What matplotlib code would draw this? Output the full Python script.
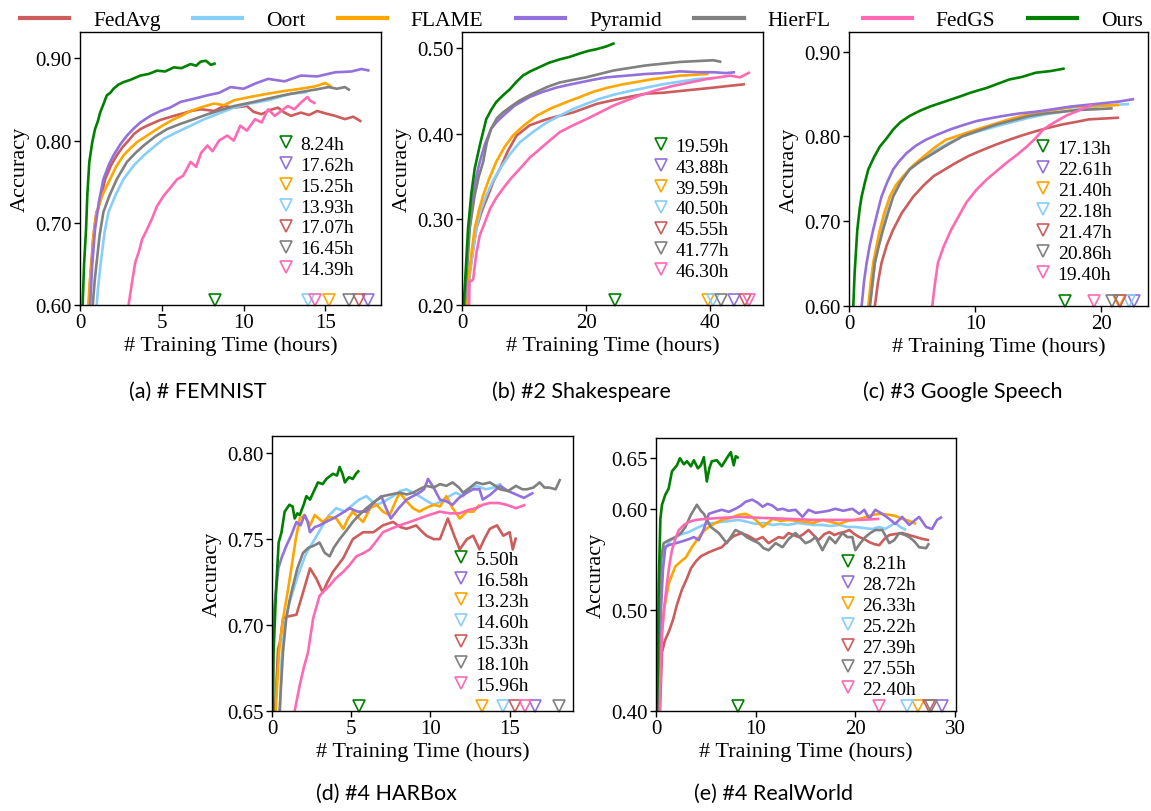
import matplotlib
matplotlib.use("Agg")
import matplotlib.pyplot as plt
from matplotlib.lines import Line2D

plt.rcParams['font.family'] = ['Liberation Serif', 'DejaVu Serif']

METHODS = ["FedAvg", "Oort", "FLAME", "Pyramid", "HierFL", "FedGS", "Ours"]
COLORS = {"FedAvg": "#cd5c5c", "Oort": "#87cefa", "FLAME": "#ffa500",
          "Pyramid": "#9370db", "HierFL": "#808080", "FedGS": "#ff69b4",
          "Ours": "#008000"}
TIME_ORDER = ["Ours", "Pyramid", "FLAME", "Oort", "FedAvg", "HierFL", "FedGS"]

# ---------------- (a) FEMNIST ----------------
femnist = {
    "FedAvg": ([0.5, 0.55, 0.65, 0.8, 1.0, 1.1, 1.54, 1.9, 2.25, 2.6, 2.97, 3.3, 3.7, 4.1, 4.9, 5.74, 6.3, 6.8, 7.4, 8.2, 8.8, 9.4, 10.2, 10.6, 11.1, 11.6, 12.1, 12.5, 12.9, 13.5, 14.0, 14.5, 15.0, 15.6, 16.2, 16.7, 17.2],
               [0.58, 0.60, 0.64, 0.68, 0.713, 0.716, 0.753, 0.770, 0.782, 0.792, 0.80, 0.808, 0.814, 0.818, 0.825, 0.830, 0.833, 0.836, 0.838, 0.836, 0.842, 0.840, 0.842, 0.835, 0.832, 0.837, 0.840, 0.834, 0.830, 0.834, 0.831, 0.836, 0.833, 0.830, 0.826, 0.829, 0.823]),
    "Oort": ([1.0, 1.02, 1.1, 1.27, 1.5, 1.74, 2.2, 2.66, 3.3, 3.9, 4.5, 5.12, 5.9, 6.76, 7.6, 8.5, 9.4, 10.4, 11.5, 12.2, 12.9, 13.5, 13.9],
             [0.58, 0.60, 0.62, 0.652, 0.688, 0.713, 0.735, 0.753, 0.770, 0.782, 0.792, 0.802, 0.810, 0.818, 0.826, 0.833, 0.840, 0.845, 0.849, 0.853, 0.857, 0.858, 0.859]),
    "FLAME": ([0.48, 0.51, 0.6, 0.72, 0.85, 1.02, 1.4, 1.84, 2.2, 2.66, 3.05, 3.48, 4.1, 4.71, 5.2, 5.74, 6.2, 6.76, 7.5, 8.2, 8.8, 9.43, 10.4, 11.5, 12.4, 13.5, 14.4, 15.0, 15.4],
              [0.58, 0.60, 0.63, 0.652, 0.69, 0.713, 0.735, 0.753, 0.768, 0.782, 0.790, 0.798, 0.806, 0.814, 0.82, 0.826, 0.83, 0.836, 0.841, 0.845, 0.843, 0.849, 0.853, 0.857, 0.86, 0.863, 0.866, 0.870, 0.865]),
    "Pyramid": ([0.55, 0.62, 0.75, 0.92, 1.15, 1.43, 1.75, 2.05, 2.45, 2.87, 3.3, 3.69, 4.3, 4.92, 5.5, 6.15, 7.0, 7.79, 8.5, 9.2, 10.0, 10.8, 11.5, 12.5, 13.5, 14.5, 15.6, 16.6, 17.2, 17.7],
                [0.58, 0.60, 0.65, 0.692, 0.725, 0.753, 0.770, 0.782, 0.795, 0.806, 0.815, 0.822, 0.830, 0.836, 0.840, 0.847, 0.851, 0.855, 0.858, 0.865, 0.863, 0.870, 0.875, 0.872, 0.879, 0.878, 0.883, 0.884, 0.887, 0.885]),
    "HierFL": ([0.75, 0.78, 0.9, 1.02, 1.2, 1.43, 1.8, 2.25, 2.87, 3.4, 3.9, 4.6, 5.33, 6.1, 6.97, 7.8, 8.6, 9.43, 10.4, 11.5, 12.4, 13.5, 14.4, 15.2, 15.7, 16.2, 16.5],
               [0.58, 0.60, 0.63, 0.652, 0.685, 0.713, 0.733, 0.753, 0.774, 0.785, 0.794, 0.805, 0.814, 0.820, 0.826, 0.832, 0.837, 0.842, 0.846, 0.851, 0.855, 0.859, 0.862, 0.865, 0.863, 0.865, 0.861]),
    "FedGS": ([2.95, 2.97, 3.2, 3.38, 3.6, 3.8, 4.1, 4.4, 4.7, 5.12, 5.5, 5.94, 6.3, 6.76, 7.1, 7.4, 7.79, 8.1, 8.5, 9.0, 9.4, 9.8, 10.2, 10.7, 11.1, 11.5, 11.9, 12.3, 12.7, 13.1, 13.5, 13.9, 14.1, 14.4],
              [0.58, 0.60, 0.63, 0.652, 0.665, 0.68, 0.692, 0.705, 0.72, 0.733, 0.742, 0.753, 0.757, 0.774, 0.768, 0.785, 0.794, 0.787, 0.80, 0.806, 0.80, 0.818, 0.812, 0.826, 0.822, 0.838, 0.83, 0.836, 0.842, 0.838, 0.846, 0.853, 0.848, 0.845]),
    "Ours": ([0.12, 0.16, 0.25, 0.37, 0.45, 0.57, 0.75, 0.92, 1.1, 1.23, 1.45, 1.64, 1.85, 2.05, 2.35, 2.66, 3.1, 3.69, 4.2, 4.71, 5.2, 5.74, 6.2, 6.76, 7.1, 7.38, 7.7, 8.0, 8.3],
             [0.58, 0.60, 0.65, 0.692, 0.735, 0.774, 0.798, 0.814, 0.824, 0.834, 0.845, 0.855, 0.858, 0.863, 0.868, 0.871, 0.874, 0.879, 0.881, 0.885, 0.884, 0.889, 0.888, 0.893, 0.891, 0.896, 0.897, 0.892, 0.894]),
}
femnist_marks = {"Ours": 8.24, "Pyramid": 17.62, "FLAME": 15.25, "Oort": 13.93,
                 "FedAvg": 17.07, "HierFL": 16.45, "FedGS": 14.39}
femnist_labels = ["8.24h", "17.62h", "15.25h", "13.93h", "17.07h", "16.45h", "14.39h"]

# ---------------- (b) Shakespeare ----------------
shakespeare = {
    "FedAvg": ([0.8, 0.9, 1.3, 1.8, 2.3, 3.2, 4.2, 5.1, 6.1, 7.4, 8.8, 10.9, 13.6, 15.7, 17.9, 19.8, 21.7, 23.5, 25.4, 27.5, 29.7, 32.4, 35.1, 37.8, 40.5, 43.0, 45.6],
               [0.18, 0.20, 0.24, 0.265, 0.289, 0.31, 0.328, 0.345, 0.359, 0.38, 0.398, 0.41, 0.417, 0.421, 0.425, 0.43, 0.435, 0.438, 0.441, 0.444, 0.447, 0.448, 0.45, 0.452, 0.454, 0.456, 0.458]),
    "Oort": ([0.8, 0.9, 1.3, 1.8, 2.3, 3.0, 3.9, 5.0, 6.1, 7.6, 9.3, 11.4, 13.6, 15.7, 17.9, 20.0, 22.2, 24.6, 27.0, 29.7, 32.4, 35.1, 37.8, 40.5],
             [0.18, 0.20, 0.24, 0.265, 0.289, 0.31, 0.328, 0.345, 0.359, 0.375, 0.39, 0.402, 0.413, 0.421, 0.429, 0.435, 0.441, 0.446, 0.45, 0.454, 0.458, 0.461, 0.464, 0.465]),
    "FLAME": ([0.7, 0.8, 1.2, 1.6, 2.04, 2.7, 3.4, 4.4, 5.5, 6.8, 8.2, 10.0, 12.0, 14.4, 16.8, 19.0, 21.1, 23.5, 26.0, 28.4, 30.8, 33.0, 35.1, 37.5, 39.7],
              [0.18, 0.20, 0.24, 0.265, 0.289, 0.31, 0.328, 0.348, 0.367, 0.384, 0.398, 0.41, 0.421, 0.43, 0.437, 0.443, 0.449, 0.454, 0.458, 0.461, 0.464, 0.466, 0.468, 0.469, 0.47]),
    "Pyramid": ([0.3, 0.4, 0.8, 1.2, 1.77, 2.3, 2.85, 3.7, 4.7, 5.6, 6.6, 8.5, 10.9, 13.0, 15.2, 17.0, 19.0, 21.0, 23.3, 26.5, 29.7, 32.4, 35.1, 38.0, 40.5, 42.5, 44.0],
                [0.18, 0.20, 0.25, 0.29, 0.328, 0.35, 0.367, 0.388, 0.406, 0.414, 0.421, 0.433, 0.443, 0.449, 0.454, 0.457, 0.46, 0.463, 0.466, 0.468, 0.47, 0.471, 0.473, 0.472, 0.472, 0.471, 0.472]),
    "HierFL": ([0.35, 0.43, 0.8, 1.24, 2.04, 2.7, 3.4, 4.0, 4.7, 5.6, 6.6, 7.9, 9.3, 10.6, 12.0, 13.8, 15.75, 17.8, 20.0, 22.2, 24.4, 27.0, 29.7, 32.4, 35.1, 37.8, 40.5, 41.8],
               [0.18, 0.20, 0.24, 0.289, 0.328, 0.35, 0.367, 0.39, 0.406, 0.418, 0.425, 0.432, 0.439, 0.444, 0.449, 0.455, 0.46, 0.463, 0.466, 0.47, 0.474, 0.477, 0.48, 0.482, 0.484, 0.485, 0.486, 0.484]),
    "FedGS": ([1.1, 1.2, 1.5, 1.8, 2.3, 2.85, 3.6, 4.5, 5.5, 6.6, 7.9, 9.3, 10.9, 12.5, 14.1, 15.75, 17.9, 20.0, 22.2, 24.4, 26.5, 28.7, 31.3, 34.0, 36.7, 39.4, 41.3, 43.2, 44.8, 46.4],
              [0.18, 0.228, 0.228, 0.23, 0.26, 0.281, 0.295, 0.312, 0.325, 0.336, 0.348, 0.359, 0.372, 0.382, 0.392, 0.402, 0.41, 0.417, 0.425, 0.433, 0.439, 0.445, 0.451, 0.456, 0.46, 0.464, 0.466, 0.468, 0.466, 0.472]),
    "Ours": ([0.2, 0.27, 0.6, 0.97, 1.5, 2.04, 2.85, 3.9, 4.7, 5.5, 6.6, 7.7, 8.8, 9.8, 11.0, 12.5, 14.0, 15.75, 17.4, 19.0, 20.4, 21.7, 23.2, 24.6],
             [0.18, 0.20, 0.24, 0.289, 0.33, 0.359, 0.386, 0.417, 0.428, 0.437, 0.445, 0.452, 0.461, 0.468, 0.473, 0.478, 0.483, 0.487, 0.49, 0.494, 0.497, 0.499, 0.502, 0.506]),
}
shakespeare_marks = {"Ours": 24.6, "Pyramid": 43.88, "FLAME": 39.59, "Oort": 40.50,
                     "FedAvg": 45.55, "HierFL": 41.77, "FedGS": 46.30}
shakespeare_labels = ["19.59h", "43.88h", "39.59h", "40.50h", "45.55h", "41.77h", "46.30h"]

# ---------------- (c) Google Speech ----------------
speech = {
    "FedAvg": ([1.95, 2.05, 2.3, 2.58, 3.0, 3.5, 4.2, 5.1, 5.9, 6.7, 7.6, 8.5, 9.5, 10.6, 11.6, 12.7, 13.7, 14.8, 15.8, 16.9, 18.0, 19.0, 20.2, 21.4],
               [0.58, 0.60, 0.628, 0.651, 0.672, 0.69, 0.71, 0.729, 0.742, 0.753, 0.761, 0.769, 0.777, 0.784, 0.79, 0.796, 0.801, 0.806, 0.81, 0.814, 0.817, 0.82, 0.821, 0.822]),
    "Oort": ([1.55, 1.65, 1.85, 2.05, 2.3, 2.58, 2.9, 3.24, 3.9, 4.8, 5.8, 6.9, 7.9, 9.0, 10.3, 11.7, 13.0, 14.3, 15.6, 16.9, 18.2, 19.6, 20.9, 22.2],
             [0.58, 0.60, 0.625, 0.651, 0.672, 0.69, 0.71, 0.729, 0.746, 0.761, 0.773, 0.784, 0.792, 0.80, 0.806, 0.812, 0.817, 0.822, 0.826, 0.829, 0.832, 0.835, 0.837, 0.838]),
    "FLAME": ([1.45, 1.53, 1.7, 1.92, 2.2, 2.45, 2.8, 3.24, 3.7, 4.3, 5.1, 5.9, 6.8, 7.7, 8.9, 10.1, 11.4, 12.7, 14.0, 15.3, 16.6, 18.0, 19.7, 21.4],
              [0.58, 0.60, 0.625, 0.651, 0.672, 0.69, 0.71, 0.729, 0.742, 0.753, 0.766, 0.776, 0.787, 0.796, 0.802, 0.808, 0.814, 0.82, 0.825, 0.829, 0.832, 0.835, 0.836, 0.837]),
    "Pyramid": ([0.95, 1.0, 1.2, 1.4, 1.65, 1.92, 2.25, 2.58, 3.0, 3.5, 4.0, 4.55, 5.3, 6.1, 7.0, 8.0, 9.0, 10.1, 11.1, 12.2, 13.5, 14.8, 16.2, 17.5, 18.8, 20.1, 21.4, 22.6],
                [0.58, 0.60, 0.63, 0.651, 0.672, 0.69, 0.71, 0.729, 0.745, 0.761, 0.771, 0.78, 0.789, 0.796, 0.802, 0.808, 0.813, 0.818, 0.821, 0.824, 0.827, 0.829, 0.832, 0.835, 0.837, 0.839, 0.841, 0.844]),
    "HierFL": ([1.6, 1.66, 1.85, 2.05, 2.35, 2.7, 3.1, 3.5, 4.1, 4.8, 5.7, 6.7, 7.8, 9.0, 10.3, 11.7, 13.0, 14.3, 15.6, 16.9, 18.2, 19.6, 20.9],
               [0.58, 0.60, 0.625, 0.651, 0.67, 0.69, 0.71, 0.729, 0.746, 0.761, 0.771, 0.78, 0.79, 0.80, 0.807, 0.814, 0.819, 0.824, 0.827, 0.829, 0.831, 0.832, 0.833]),
    "FedGS": ([6.5, 6.6, 6.8, 7.05, 7.5, 8.1, 8.7, 9.3, 10.1, 10.9, 11.7, 12.5, 13.3, 14.1, 14.8, 15.4, 16.0, 16.7, 17.3, 18.0, 18.7, 19.3],
              [0.58, 0.60, 0.625, 0.651, 0.67, 0.69, 0.706, 0.722, 0.737, 0.749, 0.759, 0.769, 0.778, 0.788, 0.798, 0.808, 0.814, 0.82, 0.825, 0.829, 0.834, 0.837]),
    "Ours": ([0.3, 0.34, 0.45, 0.66, 0.85, 1.0, 1.25, 1.53, 2.0, 2.45, 3.0, 3.5, 4.1, 4.8, 5.6, 6.4, 7.2, 8.0, 8.8, 9.55, 10.2, 10.9, 11.8, 12.7, 13.7, 14.8, 16.0, 17.1],
             [0.58, 0.60, 0.64, 0.69, 0.715, 0.729, 0.745, 0.761, 0.776, 0.788, 0.798, 0.808, 0.817, 0.824, 0.83, 0.835, 0.839, 0.843, 0.847, 0.851, 0.854, 0.857, 0.862, 0.867, 0.87, 0.875, 0.877, 0.880]),
}
speech_marks = {"Ours": 17.13, "Pyramid": 22.61, "FLAME": 21.40, "Oort": 22.18,
                "FedAvg": 21.47, "HierFL": 20.86, "FedGS": 19.40}
speech_labels = ["17.13h", "22.61h", "21.40h", "22.18h", "21.47h", "20.86h", "19.40h"]

# ---------------- (d) HARBox ----------------
harbox = {
    "FedAvg": ([0.15, 0.2, 0.38, 0.5, 0.7, 1.0, 1.54, 1.96, 2.4, 2.8, 3.2, 3.5, 3.85, 4.5, 5.1, 5.75, 6.4, 7.0, 7.64, 8.1, 8.5, 9.1, 9.4, 9.75, 10.2, 10.6, 11.1, 11.5, 11.85, 12.3, 12.7, 13.1, 13.4, 13.75, 14.2, 14.6, 15.0, 15.2, 15.4],
               [0.63, 0.65, 0.686, 0.69, 0.704, 0.705, 0.706, 0.719, 0.733, 0.727, 0.719, 0.725, 0.731, 0.739, 0.75, 0.754, 0.754, 0.758, 0.76, 0.757, 0.756, 0.758, 0.755, 0.752, 0.75, 0.75, 0.762, 0.752, 0.744, 0.75, 0.752, 0.744, 0.75, 0.756, 0.758, 0.752, 0.754, 0.744, 0.751]),
    "Oort": ([0.5, 0.6, 0.8, 1.1, 1.6, 2.17, 2.7, 3.2, 3.6, 4.06, 4.6, 5.1, 5.5, 5.96, 6.3, 6.6, 7.1, 7.64, 8.1, 8.5, 8.9, 9.3, 9.8, 10.2, 10.7, 11.2, 11.6, 12.06, 12.5, 12.9, 13.5, 14.0, 14.4, 14.6],
             [0.65, 0.68, 0.70, 0.713, 0.728, 0.742, 0.75, 0.758, 0.764, 0.768, 0.766, 0.77, 0.773, 0.775, 0.772, 0.77, 0.772, 0.775, 0.778, 0.779, 0.777, 0.775, 0.772, 0.77, 0.772, 0.775, 0.777, 0.775, 0.779, 0.781, 0.779, 0.78, 0.782, 0.779]),
    "FLAME": ([0.2, 0.23, 0.45, 0.7, 1.0, 1.22, 1.5, 1.75, 2.06, 2.4, 2.7, 3.2, 3.6, 4.06, 4.5, 4.8, 5.1, 5.4, 5.75, 6.2, 6.6, 7.0, 7.43, 7.8, 8.06, 8.5, 8.9, 9.3, 9.7, 10.2, 10.6, 11.0, 11.4, 11.85, 12.3, 12.7, 13.1],
              [0.63, 0.65, 0.685, 0.704, 0.72, 0.733, 0.75, 0.762, 0.764, 0.758, 0.764, 0.76, 0.763, 0.762, 0.756, 0.762, 0.766, 0.763, 0.76, 0.768, 0.77, 0.766, 0.764, 0.772, 0.777, 0.772, 0.768, 0.766, 0.768, 0.77, 0.769, 0.775, 0.768, 0.762, 0.766, 0.766, 0.77]),
    "Pyramid": ([0.0, 0.05, 0.2, 0.4, 0.6, 0.9, 1.2, 1.54, 1.8, 2.06, 2.25, 2.4, 2.7, 3.0, 3.4, 3.85, 4.4, 4.9, 5.4, 5.96, 6.4, 6.9, 7.2, 7.5, 8.0, 8.5, 9.3, 9.6, 9.85, 10.2, 10.6, 11.0, 11.4, 11.8, 12.3, 12.7, 13.1, 13.3, 13.8, 14.4, 14.9, 15.4, 15.9, 16.5],
                [0.69, 0.70, 0.715, 0.733, 0.739, 0.746, 0.752, 0.76, 0.758, 0.764, 0.76, 0.754, 0.757, 0.758, 0.76, 0.762, 0.765, 0.768, 0.766, 0.766, 0.771, 0.775, 0.768, 0.762, 0.768, 0.773, 0.777, 0.779, 0.785, 0.78, 0.773, 0.772, 0.77, 0.774, 0.777, 0.779, 0.779, 0.773, 0.776, 0.781, 0.778, 0.776, 0.774, 0.777]),
    "HierFL": ([0.45, 0.48, 0.7, 0.9, 1.1, 1.33, 1.6, 1.96, 2.3, 2.6, 3.0, 3.33, 3.64, 3.9, 4.27, 4.7, 5.1, 5.5, 5.96, 6.5, 7.0, 7.5, 8.06, 8.5, 8.9, 9.3, 9.75, 10.2, 10.6, 11.0, 11.4, 11.8, 12.06, 12.5, 12.9, 13.3, 13.75, 14.1, 14.4, 14.9, 15.4, 15.8, 16.1, 16.5, 16.9, 17.2, 17.5, 17.9, 18.2],
               [0.63, 0.65, 0.685, 0.704, 0.714, 0.723, 0.733, 0.742, 0.745, 0.746, 0.748, 0.742, 0.74, 0.745, 0.75, 0.755, 0.76, 0.764, 0.768, 0.772, 0.775, 0.776, 0.777, 0.776, 0.777, 0.779, 0.781, 0.78, 0.782, 0.781, 0.783, 0.780, 0.777, 0.780, 0.783, 0.782, 0.783, 0.781, 0.779, 0.778, 0.781, 0.779, 0.779, 0.780, 0.783, 0.78, 0.78, 0.779, 0.785]),
    "FedGS": ([1.4, 1.43, 1.75, 2.0, 2.27, 2.6, 3.0, 3.3, 3.64, 4.0, 4.5, 4.9, 5.33, 5.8, 6.17, 6.6, 7.0, 7.5, 8.06, 8.7, 9.3, 9.9, 10.6, 11.2, 11.85, 12.4, 12.9, 13.3, 13.75, 14.3, 14.8, 15.4, 16.0],
              [0.64, 0.65, 0.665, 0.675, 0.684, 0.704, 0.717, 0.72, 0.723, 0.727, 0.731, 0.735, 0.74, 0.742, 0.744, 0.749, 0.754, 0.756, 0.758, 0.76, 0.762, 0.764, 0.766, 0.765, 0.765, 0.767, 0.768, 0.77, 0.771, 0.771, 0.77, 0.768, 0.77]),
    "Ours": ([0.04, 0.06, 0.1, 0.27, 0.42, 0.6, 0.8, 1.1, 1.3, 1.43, 1.6, 1.75, 2.0, 2.17, 2.4, 2.65, 2.9, 3.2, 3.43, 3.85, 4.1, 4.27, 4.45, 4.6, 4.85, 5.1, 5.3, 5.5],
             [0.63, 0.65, 0.684, 0.723, 0.748, 0.754, 0.766, 0.77, 0.769, 0.762, 0.765, 0.764, 0.770, 0.775, 0.773, 0.778, 0.783, 0.782, 0.785, 0.788, 0.787, 0.792, 0.788, 0.783, 0.786, 0.785, 0.788, 0.79]),
}
harbox_marks = {"Ours": 5.50, "Pyramid": 16.58, "FLAME": 13.23, "Oort": 14.60,
                "FedAvg": 15.33, "HierFL": 18.10, "FedGS": 15.96}
harbox_labels = ["5.50h", "16.58h", "13.23h", "14.60h", "15.33h", "18.10h", "15.96h"]

# ---------------- (e) RealWorld ----------------
realworld = {
    "FedAvg": ([0.4, 0.6, 0.9, 1.27, 1.7, 2.1, 2.6, 3.1, 3.5, 4.0, 4.5, 5.3, 5.8, 6.6, 7.2, 7.8, 8.6, 9.3, 10.0, 10.7, 11.3, 11.8, 12.3, 12.8, 13.3, 13.8, 14.3, 14.8, 15.3, 15.8, 16.3, 16.9, 17.4, 17.9, 18.4, 18.9, 19.4, 19.9, 20.4, 20.9, 21.4, 21.9, 22.4, 22.9, 23.4, 24.0, 24.7, 25.4, 26.1, 26.8, 27.4],
               [0.40, 0.458, 0.47, 0.478, 0.49, 0.505, 0.52, 0.531, 0.541, 0.548, 0.553, 0.557, 0.559, 0.562, 0.568, 0.573, 0.576, 0.573, 0.569, 0.572, 0.566, 0.569, 0.572, 0.571, 0.576, 0.574, 0.572, 0.575, 0.579, 0.574, 0.569, 0.575, 0.577, 0.574, 0.576, 0.577, 0.579, 0.575, 0.572, 0.57, 0.567, 0.565, 0.564, 0.57, 0.574, 0.575, 0.576, 0.574, 0.572, 0.57, 0.569]),
    "Oort": ([0.2, 0.4, 0.6, 0.94, 1.4, 1.94, 2.6, 3.3, 4.1, 5.0, 5.8, 6.6, 7.5, 8.3, 9.2, 10.0, 10.8, 11.7, 12.5, 13.3, 14.2, 15.0, 15.8, 16.7, 17.5, 18.4, 19.2, 20.0, 20.8, 21.7, 22.4, 23.0, 23.5, 24.0, 24.5, 25.1],
             [0.40, 0.50, 0.545, 0.562, 0.568, 0.572, 0.575, 0.577, 0.581, 0.585, 0.586, 0.587, 0.588, 0.589, 0.587, 0.585, 0.586, 0.584, 0.585, 0.584, 0.586, 0.585, 0.584, 0.584, 0.583, 0.584, 0.582, 0.582, 0.581, 0.58, 0.582, 0.58, 0.583, 0.586, 0.582, 0.579]),
    "FLAME": ([0.3, 0.44, 0.8, 1.27, 1.94, 2.5, 3.0, 3.6, 4.3, 4.8, 5.3, 6.0, 6.6, 7.5, 8.3, 9.0, 9.6, 10.0, 10.7, 11.2, 11.7, 12.5, 13.3, 14.2, 15.0, 15.8, 16.7, 17.5, 18.4, 19.2, 20.0, 20.8, 21.7, 22.5, 23.4, 24.0, 24.7, 25.4, 26.1],
              [0.40, 0.458, 0.50, 0.526, 0.543, 0.548, 0.552, 0.562, 0.572, 0.578, 0.582, 0.586, 0.589, 0.591, 0.594, 0.595, 0.592, 0.589, 0.582, 0.586, 0.59, 0.588, 0.589, 0.588, 0.587, 0.586, 0.589, 0.587, 0.585, 0.588, 0.589, 0.591, 0.594, 0.595, 0.594, 0.593, 0.59, 0.588, 0.585]),
    "Pyramid": ([0.25, 0.5, 0.7, 0.94, 1.27, 2.0, 2.7, 3.3, 3.8, 4.3, 4.8, 5.3, 5.9, 6.6, 7.3, 7.97, 8.5, 9.0, 9.65, 10.2, 10.7, 11.2, 11.7, 12.2, 12.7, 13.3, 14.0, 14.7, 15.3, 16.0, 16.7, 17.3, 18.0, 18.8, 19.7, 20.4, 20.9, 21.4, 22.0, 22.7, 23.4, 24.0, 24.7, 25.4, 25.9, 26.4, 27.1, 27.7, 28.2, 28.7],
                [0.40, 0.50, 0.54, 0.562, 0.564, 0.566, 0.568, 0.57, 0.572, 0.569, 0.58, 0.595, 0.597, 0.599, 0.597, 0.6, 0.603, 0.607, 0.609, 0.606, 0.602, 0.605, 0.603, 0.599, 0.6, 0.598, 0.599, 0.592, 0.599, 0.596, 0.597, 0.598, 0.6, 0.598, 0.6, 0.595, 0.599, 0.59, 0.599, 0.595, 0.59, 0.585, 0.592, 0.584, 0.588, 0.592, 0.582, 0.58, 0.589, 0.592]),
    "HierFL": ([0.15, 0.3, 0.5, 0.77, 1.3, 1.94, 2.5, 2.95, 3.5, 4.1, 4.5, 4.8, 5.5, 6.3, 7.1, 7.97, 8.6, 9.1, 9.65, 10.3, 10.8, 11.3, 12.0, 12.7, 13.3, 14.0, 14.5, 15.0, 15.5, 16.0, 16.7, 17.4, 18.0, 18.7, 19.2, 19.7, 20.0, 20.5, 21.0, 21.5, 22.0, 22.7, 23.1, 23.4, 23.9, 24.4, 25.0, 25.4, 25.9, 26.4, 27.1, 27.4],
               [0.40, 0.50, 0.55, 0.566, 0.569, 0.572, 0.576, 0.582, 0.594, 0.604, 0.598, 0.595, 0.582, 0.576, 0.566, 0.579, 0.576, 0.572, 0.569, 0.566, 0.561, 0.559, 0.566, 0.562, 0.570, 0.576, 0.571, 0.566, 0.568, 0.572, 0.559, 0.572, 0.566, 0.576, 0.572, 0.572, 0.559, 0.566, 0.572, 0.576, 0.579, 0.579, 0.572, 0.566, 0.569, 0.576, 0.574, 0.572, 0.568, 0.562, 0.561, 0.566]),
    "FedGS": ([0.35, 0.6, 0.85, 1.1, 1.35, 1.6, 2.0, 2.3, 2.8, 3.3, 4.0, 5.0, 6.5, 8.3, 10.5, 13.3, 16.0, 18.4, 20.5, 22.4],
              [0.40, 0.477, 0.505, 0.526, 0.545, 0.559, 0.572, 0.579, 0.584, 0.587, 0.589, 0.59, 0.591, 0.592, 0.591, 0.59, 0.589, 0.589, 0.589, 0.59]),
    "Ours": ([0.1, 0.2, 0.27, 0.44, 0.6, 0.94, 1.27, 1.6, 2.1, 2.4, 2.8, 3.1, 3.5, 3.8, 4.2, 4.5, 4.8, 5.1, 5.35, 5.6, 6.1, 6.6, 7.1, 7.5, 7.8, 8.0, 8.3],
             [0.40, 0.45, 0.524, 0.59, 0.604, 0.614, 0.62, 0.637, 0.643, 0.65, 0.644, 0.647, 0.642, 0.648, 0.64, 0.643, 0.651, 0.627, 0.64, 0.647, 0.648, 0.642, 0.65, 0.656, 0.643, 0.652, 0.65]),
}
realworld_marks = {"Ours": 8.21, "Pyramid": 28.72, "FLAME": 26.33, "Oort": 25.22,
                   "FedAvg": 27.39, "HierFL": 27.55, "FedGS": 22.40}
realworld_labels = ["8.21h", "28.72h", "26.33h", "25.22h", "27.39h", "27.55h", "22.40h"]

# ---------------- layout ----------------
W, H = 1151, 812
panels = [
    (femnist, femnist_marks, femnist_labels, (80, 33, 381, 306), (0, 18.4), (0.6, 0.932),
     [0, 5, 10, 15], [0.6, 0.7, 0.8, 0.9], "(a) # FEMNIST", (198, 392), (0.658, 0.622)),
    (shakespeare, shakespeare_marks, shakespeare_labels, (462, 33, 763, 306), (0, 48.5), (0.2, 0.519),
     [0, 20, 40], [0.2, 0.3, 0.4, 0.5], "(b) #2 Shakespeare", (581, 392), (0.634, 0.615)),
    (speech, speech_marks, speech_labels, (849, 33, 1148, 307), (0, 23.7), (0.6, 0.923),
     [0, 10, 20], [0.6, 0.7, 0.8, 0.9], "(c) #3 Google Speech", (963, 392), (0.623, 0.607)),
    (harbox, harbox_marks, harbox_labels, (272, 437, 573, 712), (0, 19.0), (0.65, 0.81),
     [0, 5, 10, 15], [0.65, 0.70, 0.75, 0.80], "(d) #4 HARBox", (386, 794), (0.602, 0.583)),
    (realworld, realworld_marks, realworld_labels, (656, 439, 956, 712), (0, 30.1), (0.4, 0.670),
     [0, 10, 20, 30], [0.40, 0.50, 0.60, 0.65], "(e) #4 RealWorld", (773, 794), (0.614, 0.573)),
]

fig = plt.figure(figsize=(W / 100, H / 100), dpi=100)

for data, marks, tlabels, box, xlim, ylim, xt, yt, cap, cpos, lanchor in panels:
    l, t, r, b = box
    ax = fig.add_axes([l / W, 1 - b / H, (r - l) / W, (b - t) / H])
    for m in METHODS:
        xs, ys = data[m]
        ax.plot(xs, ys, color=COLORS[m], lw=1.9, solid_capstyle='butt')
    ax.set_xlim(*xlim)
    ax.set_ylim(*ylim)
    ax.set_xticks(xt)
    ax.set_yticks(yt)
    ax.set_yticklabels([f"{v:.2f}" for v in yt])
    ax.tick_params(direction='out', length=4, width=1, labelsize=15, pad=2)
    for s in ax.spines.values():
        s.set_linewidth(1.0)
    ax.set_xlabel("# Training Time (hours)", fontsize=16, labelpad=2)
    ax.set_ylabel("Accuracy", fontsize=16, labelpad=4)
    # finish-time markers on the bottom
    tr = ax.get_xaxis_transform()
    for m in TIME_ORDER:
        ax.plot([marks[m]], [0.02], marker='v', ms=9, mfc='none', mec=COLORS[m],
                mew=1.2, transform=tr, clip_on=False, ls='none')
    handles = [Line2D([], [], marker='v', ms=9, mfc='none', mec=COLORS[m], mew=1.2, ls='none')
               for m in TIME_ORDER]
    ax.legend(handles, tlabels, loc='upper left', bbox_to_anchor=lanchor, frameon=False,
              fontsize=14, handlelength=0.8, handletextpad=0.35, labelspacing=0.17,
              borderpad=0, borderaxespad=0)
    fig.text(cpos[0] / W, 1 - cpos[1] / H, cap, ha='center', va='center',
             fontsize=15.5, family=['Lato', 'DejaVu Sans'])

top_handles = [Line2D([], [], color=COLORS[m], lw=3) for m in METHODS]
fig.legend(top_handles, METHODS, loc='upper center', bbox_to_anchor=(0.505, 1.01), ncol=7,
           frameon=False, fontsize=15.5, handlelength=2.3, handletextpad=1.1, columnspacing=1.5)

fig.savefig("out.png", dpi=100)
